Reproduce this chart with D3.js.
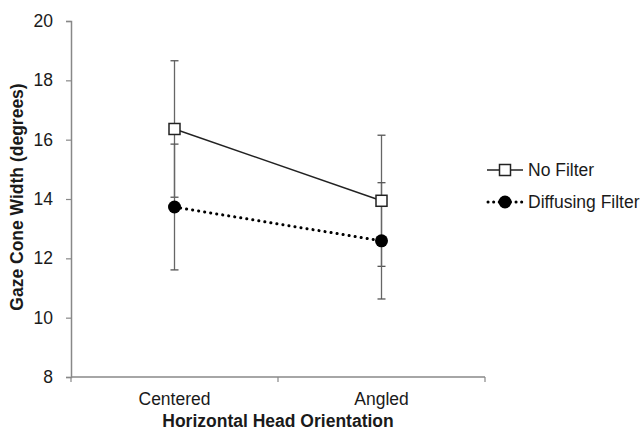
<!DOCTYPE html>
<html>
<head>
<meta charset="utf-8">
<script src="https://cdn.jsdelivr.net/npm/d3@7"></script>
<style>
  body { margin: 0; background: #fff; }
  text { font-family: "Liberation Sans", Arial, sans-serif; fill: #1a1a1a; }
</style>
</head>
<body>
<div id="chart"></div>
<script>
// data
const categories = ["Centered", "Angled"];
const noFilter = [16.36, 13.94];
const noFilterErr = [2.3, 2.21];
const diffusing = [13.73, 12.59];
const diffusingErr = [2.12, 1.96];
const yTicks = [8, 10, 12, 14, 16, 18, 20];

const W = 644, H = 431;
const margin = { top: 21, left: 71 };
const plotW = 414, plotH = 356;
const fs = "17.5px";

const svg = d3.select("#chart").append("svg")
  .attr("width", W).attr("height", H);

const g = svg.append("g").attr("transform", `translate(${margin.left},${margin.top})`);

const x = d3.scaleBand().domain(categories).range([0, plotW]);
const y = d3.scaleLinear().domain([8, 20]).range([plotH, 0]);

// y axis
const yAxis = g.append("g")
  .call(d3.axisLeft(y).tickValues(yTicks).tickSize(5).tickPadding(13).tickFormat(d3.format("d")));
yAxis.select(".domain").attr("stroke", "#888").attr("stroke-width", 1.5);
yAxis.selectAll(".tick line").attr("stroke", "#888").attr("stroke-width", 1.2);
yAxis.selectAll("text").style("font-size", fs).attr("fill", "#1a1a1a");

// x axis with ticks on band boundaries
const xAxis = g.append("g").attr("transform", `translate(0,${plotH})`);
xAxis.append("line").attr("x1", 0).attr("x2", plotW).attr("stroke", "#888").attr("stroke-width", 1.5);
const bounds = [0, ...categories.map(c => x(c) + x.bandwidth())];
xAxis.selectAll(".bt").data(bounds).enter().append("line")
  .attr("x1", d => d).attr("x2", d => d).attr("y1", 0).attr("y2", 5)
  .attr("stroke", "#888").attr("stroke-width", 1.2);
xAxis.selectAll(".lab").data(categories).enter().append("text")
  .attr("x", d => x(d) + x.bandwidth() / 2).attr("y", 28)
  .attr("text-anchor", "middle").style("font-size", fs).text(d => d);

// axis titles
svg.append("text").attr("x", margin.left + plotW / 2).attr("y", 427)
  .attr("text-anchor", "middle").style("font-size", fs).style("font-weight", "bold")
  .text("Horizontal Head Orientation");
svg.append("text").attr("transform", `translate(23,${margin.top + plotH / 2 - 2}) rotate(-90)`)
  .attr("text-anchor", "middle").style("font-size", fs).style("font-weight", "bold")
  .text("Gaze Cone Width (degrees)");

const cx = c => x(c) + x.bandwidth() / 2;

// error bars
function errorBars(vals, errs) {
  categories.forEach((c, i) => {
    const px = cx(c);
    g.append("line").attr("x1", px).attr("x2", px)
      .attr("y1", y(vals[i] + errs[i])).attr("y2", y(vals[i] - errs[i]))
      .attr("stroke", "#666").attr("stroke-width", 1.3);
    [vals[i] + errs[i], vals[i] - errs[i]].forEach(v => {
      g.append("line").attr("x1", px - 4).attr("x2", px + 4)
        .attr("y1", y(v)).attr("y2", y(v))
        .attr("stroke", "#555").attr("stroke-width", 1.3);
    });
  });
}
errorBars(noFilter, noFilterErr);
errorBars(diffusing, diffusingErr);

const line = d3.line().x((d, i) => cx(categories[i])).y(d => y(d));

// diffusing filter series (dotted)
g.append("path").datum(diffusing).attr("d", line)
  .attr("fill", "none").attr("stroke", "#000").attr("stroke-width", 3)
  .attr("stroke-linecap", "round").attr("stroke-dasharray", "0.1 6");
g.selectAll(".dot").data(diffusing).enter().append("circle")
  .attr("cx", (d, i) => cx(categories[i])).attr("cy", d => y(d))
  .attr("r", 6.5).attr("fill", "#000");

// no filter series (solid)
g.append("path").datum(noFilter).attr("d", line)
  .attr("fill", "none").attr("stroke", "#222").attr("stroke-width", 1.5);
g.selectAll(".sq").data(noFilter).enter().append("rect")
  .attr("x", (d, i) => cx(categories[i]) - 5.5).attr("y", d => y(d) - 5.5)
  .attr("width", 11).attr("height", 11)
  .attr("fill", "#fff").attr("stroke", "#222").attr("stroke-width", 1.5);

// legend
const leg = svg.append("g").attr("transform", "translate(487,170)");
leg.append("line").attr("x1", 0).attr("x2", 36).attr("stroke", "#222").attr("stroke-width", 1.5);
leg.append("rect").attr("x", 12.5).attr("y", -5.5).attr("width", 11).attr("height", 11)
  .attr("fill", "#fff").attr("stroke", "#222").attr("stroke-width", 1.5);
leg.append("text").attr("x", 41).attr("y", 6).style("font-size", fs).text("No Filter");

const leg2 = svg.append("g").attr("transform", "translate(487,202)");
leg2.append("line").attr("x1", 1).attr("x2", 36).attr("stroke", "#000").attr("stroke-width", 3)
  .attr("stroke-linecap", "round").attr("stroke-dasharray", "0.1 5.5");
leg2.append("circle").attr("cx", 18).attr("cy", 0).attr("r", 6.5).attr("fill", "#000");
leg2.append("text").attr("x", 41).attr("y", 6).style("font-size", fs).text("Diffusing Filter");
</script>
</body>
</html>
